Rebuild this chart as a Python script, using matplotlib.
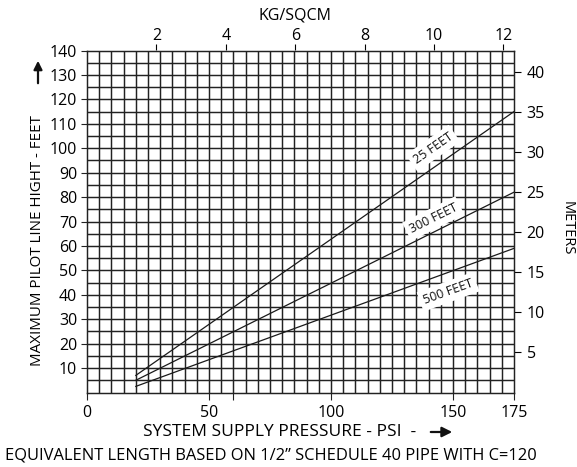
import matplotlib
matplotlib.use("Agg")
import matplotlib.pyplot as plt
import numpy as np

# ---- data ----
pressure_psi = [20, 175]
height_25ft = [7, 115]
height_300ft = [5, 82]
height_500ft = [2.5, 59]
line_labels = ["25 FEET", "300 FEET", "500 FEET"]
label_psi = [141.8, 141.9, 148.0]
label_ft = [100.0, 71.2, 41.2]

x_ticks = [0, 50, 100, 150, 175]
y_ticks = [10, 20, 30, 40, 50, 60, 70, 80, 90, 100, 110, 120, 130, 140]
kg_ticks = [2, 4, 6, 8, 10, 12]
m_ticks = [5, 10, 15, 20, 25, 30, 35, 40]

PSI_TO_KG = 0.070307
FT_TO_M = 0.3048

plt.rcParams['font.family'] = ['Open Sans', 'DejaVu Sans']

W, H = 577, 467
fig = plt.figure(figsize=(W / 100, H / 100), dpi=100)
L, R, T, B = 87, 514, 50.5, 392.5
ax = fig.add_axes([L / W, 1 - B / H, (R - L) / W, (B - T) / H])

ax.set_xlim(0, 175)
ax.set_ylim(0, 140)

# grid every 5 units
for gx in np.arange(5, 175, 5):
    ax.axvline(gx, color='#222222', lw=1.05, zorder=1)
for gy in np.arange(5, 140, 5):
    ax.axhline(gy, color='#222222', lw=1.05, zorder=1)

for s in ax.spines.values():
    s.set_color('#222222')
    s.set_linewidth(1.05)

series = [height_25ft, height_300ft, height_500ft]
for ys in series:
    ax.plot(pressure_psi, ys, color='#1a1a1a', lw=0.9, zorder=3)

# label angles in display space
fig.canvas.draw()
for ys, txt, lx, ly in zip(series, line_labels, label_psi, label_ft):
    p0 = ax.transData.transform((pressure_psi[0], ys[0]))
    p1 = ax.transData.transform((pressure_psi[1], ys[1]))
    ang = np.degrees(np.arctan2(p1[1] - p0[1], p1[0] - p0[0]))
    ax.text(lx, ly, txt, rotation=ang, rotation_mode='anchor', ha='center', va='center',
            fontsize=9, color='#111111', zorder=4,
            bbox=dict(boxstyle='square,pad=0.3', fc='white', ec='none'))

ax.set_xticks(x_ticks)
ax.set_xticks([60], minor=True)
ax.set_yticks(y_ticks)
ax.tick_params(axis='both', which='both', direction='out', length=4, width=0.8,
               color='#222222', labelsize=11.5, pad=3)
ax.tick_params(axis='x', which='both', pad=4, length=5)
ax.tick_params(axis='y', pad=3)

secx = ax.secondary_xaxis('top', functions=(lambda p: p * PSI_TO_KG, lambda k: k / PSI_TO_KG))
secx.set_xticks(kg_ticks)
secx.tick_params(direction='out', length=4, width=0.8, labelsize=11.5, pad=1)
secx.spines['top'].set_visible(False)

secy = ax.secondary_yaxis('right', functions=(lambda f: f * FT_TO_M, lambda m: m / FT_TO_M))
secy.set_yticks(m_ticks)
secy.tick_params(direction='out', length=5, width=0.8, labelsize=11.5, pad=4)
secy.spines['right'].set_visible(False)

def fx(px):
    return px / W

def fy(py):
    return 1 - py / H

fig.text(fx(295), fy(16), "KG/SQCM", ha='center', va='center', fontsize=11.5)
fig.text(fx(567), fy(228), "METERS", ha='center', va='center', rotation=-90, fontsize=10.5)
fig.text(fx(38), fy(241), "MAXIMUM PILOT LINE HIGHT - FEET", ha='center', va='center',
         rotation=90, fontsize=10.9)
fig.text(fx(143), fy(432), "SYSTEM SUPPLY PRESSURE - PSI  -", ha='left', va='center', fontsize=12.5)
fig.text(fx(271), fy(455), "EQUIVALENT LENGTH BASED ON 1/2\u201d SCHEDULE 40 PIPE WITH C=120",
         ha='center', va='center', fontsize=11.9)

fig.add_artist(matplotlib.patches.FancyArrowPatch(
    (fx(38), fy(86)), (fx(38), fy(58)), transform=fig.transFigure,
    arrowstyle='-|>,head_length=5,head_width=2.5', lw=1.6, color='#111111'))
fig.add_artist(matplotlib.patches.FancyArrowPatch(
    (fx(428), fy(432)), (fx(455), fy(432)), transform=fig.transFigure,
    arrowstyle='-|>,head_length=6,head_width=3', lw=1.6, color='#111111'))

fig.savefig("out.png", dpi=100)
